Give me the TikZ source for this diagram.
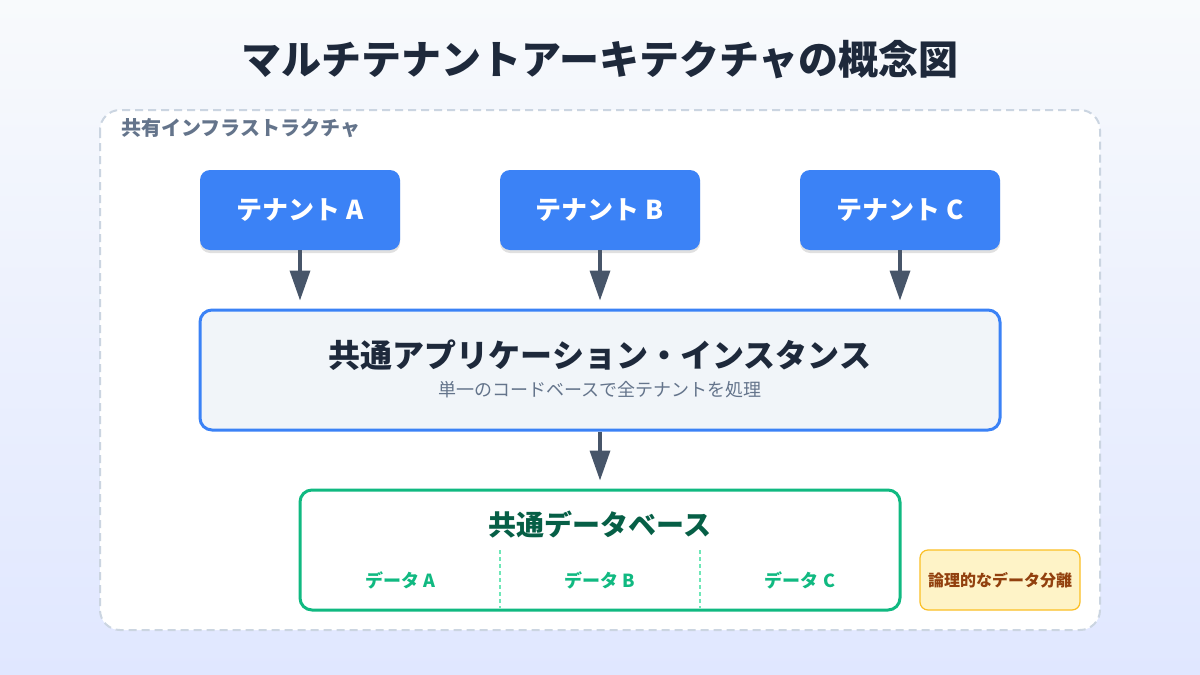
\documentclass[tikz,border=0pt]{standalone}
\usepackage{fontspec}
\setmainfont{Noto Sans CJK JP}
\usetikzlibrary{arrows.meta,shadows}
\definecolor{bgtop}{HTML}{F8FAFC}
\definecolor{bgbot}{HTML}{E0E7FF}
\definecolor{titlec}{HTML}{1E293B}
\definecolor{slate}{HTML}{64748B}
\definecolor{dashc}{HTML}{CBD5E1}
\definecolor{blue}{HTML}{3B82F6}
\definecolor{appfill}{HTML}{F1F5F9}
\definecolor{arrowc}{HTML}{475569}
\definecolor{green}{HTML}{10B981}
\definecolor{dkgreen}{HTML}{065F46}
\definecolor{divc}{HTML}{6EE7B7}
\definecolor{yfill}{HTML}{FEF3C7}
\definecolor{ystroke}{HTML}{FBBF24}
\definecolor{brown}{HTML}{92400E}
\tikzset{
  tenant/.style={draw=none, fill=blue, rounded corners=10pt, minimum width=200pt, minimum height=80pt,
    text=white, font=\bfseries\fontsize{26}{30}\selectfont, inner sep=0pt,
    drop shadow={shadow xshift=0pt, shadow yshift=-3pt, opacity=0.12, fill=black}},
  flow/.style={draw=arrowc, line width=3.5pt, -{Triangle[width=20pt,length=30pt]}, shorten >=8pt},
  dblabel/.style={text=green, font=\bfseries\fontsize{18}{22}\selectfont, inner sep=0pt},
}
\begin{document}
\begin{tikzpicture}[x=1pt,y=-1pt]
\useasboundingbox (0,0) rectangle (1200,675);
\shade[top color=bgtop, bottom color=bgbot] (0,0) rectangle (1200,675);
\node[text=titlec, font=\bfseries\fontsize{40}{48}\selectfont, inner sep=0pt] (title) at (600,60) {マルチテナントアーキテクチャの概念図};
% container
\draw[draw=dashc, line width=2pt, dash pattern=on 8pt off 5pt, fill=white, rounded corners=20pt] (100,110) rectangle (1100,630);
\node[anchor=west, text=slate, font=\bfseries\fontsize{20}{24}\selectfont, inner sep=0pt] (infra) at (121,128) {共有インフラストラクチャ};
% tenants
\node[tenant] (ta) at (300,210) {テナント A};
\node[tenant] (tb) at (600,210) {テナント B};
\node[tenant] (tc) at (900,210) {テナント C};
% app
\node[draw=blue, line width=3pt, fill=appfill, rounded corners=12pt, minimum width=800pt, minimum height=120pt, inner sep=0pt] (app) at (600,370) {};
\node[text=titlec, font=\bfseries\fontsize{32}{36}\selectfont, inner sep=0pt] (apptitle) at (600,355) {共通アプリケーション・インスタンス};
\node[text=slate, font=\fontsize{18}{22}\selectfont, inner sep=0pt] (appsub) at (600,390) {単一のコードベースで全テナントを処理};
% arrows
\draw[flow] (ta.south) -- (ta.south |- app.north);
\draw[flow] (tb.south) -- (tb.south |- app.north);
\draw[flow] (tc.south) -- (tc.south |- app.north);
% db
\node[draw=green, line width=3pt, fill=white, rounded corners=12pt, minimum width=600pt, minimum height=120pt, inner sep=0pt] (db) at (600,550) {};
\draw[flow] (app.south) -- (db.north);
\node[text=dkgreen, font=\bfseries\fontsize{28}{34}\selectfont, inner sep=0pt] (dbtitle) at (600,525) {共通データベース};
\coordinate (d1t) at (500,550); \coordinate (d1b) at (500,608);
\coordinate (d2t) at (700,550); \coordinate (d2b) at (700,608);
\draw[divc, line width=1.5pt, dash pattern=on 4pt off 3pt] (d1t) -- (d1b);
\draw[divc, line width=1.5pt, dash pattern=on 4pt off 3pt] (d2t) -- (d2b);
\node[dblabel] (da) at (400,580) {データ A};
\node[dblabel] (dbb) at (600,580) {データ B};
\node[dblabel] (dc) at (800,580) {データ C};
% note
\node[draw=ystroke, line width=1.2pt, fill=yfill, rounded corners=8pt, minimum width=160pt, minimum height=60pt, inner sep=0pt,
  text=brown, font=\bfseries\fontsize{16}{20}\selectfont] (note) at (1000,580) {論理的なデータ分離};
\end{tikzpicture}
\end{document}
